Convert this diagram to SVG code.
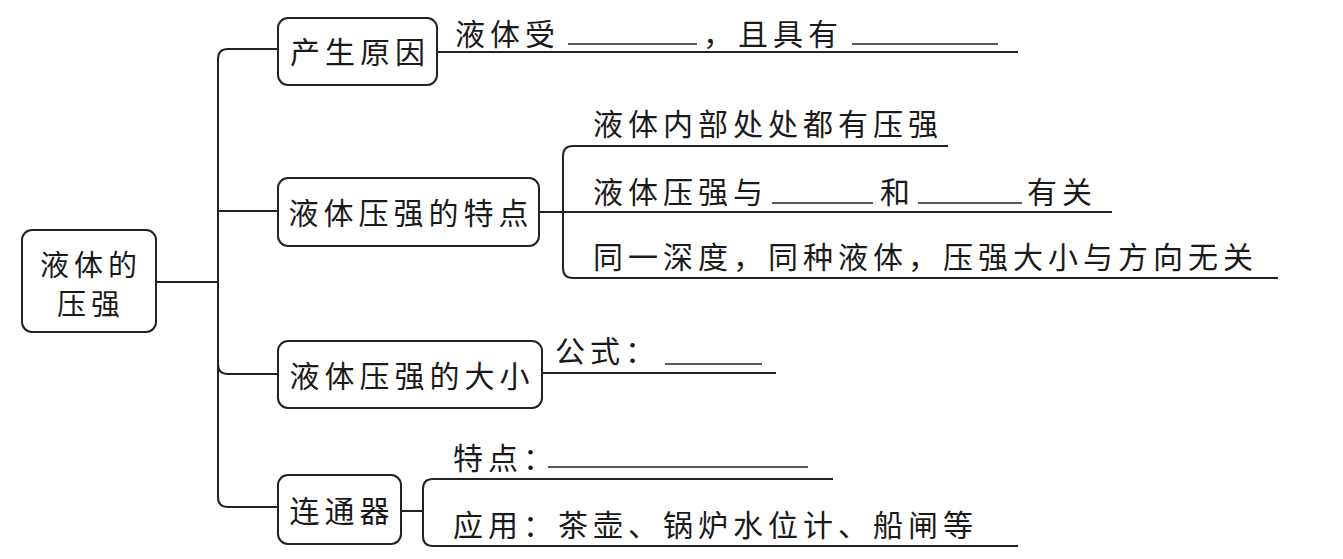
<svg xmlns="http://www.w3.org/2000/svg" width="1343" height="559" viewBox="0 0 1343 559">
<style>
.box{fill:#fff;stroke:#222;stroke-width:2}
.ln{fill:none;stroke:#222;stroke-width:2}
.bl{fill:none;stroke:#222;stroke-width:1.6}
text{font-family:"Noto Sans CJK SC","Liberation Serif",sans-serif;font-size:30px;fill:#1a1a1a;letter-spacing:5px}
.c{text-anchor:middle}
.r{font-size:29px}
</style>
<rect width="1343" height="559" fill="#fff"/>
<g id="connectors">
<path class="ln" d="M156 282 H218"/>
<path class="ln" d="M278 49 H228 Q218 49 218 59 V497 Q218 507 228 507 H278"/>
<path class="ln" d="M218 211 H278"/>
<path class="ln" d="M218 364 Q218 374 228 374 H278"/>
<path class="ln" d="M437 52 H1018"/>
<path class="ln" d="M539 212 H563"/>
<path class="ln" d="M948 146 H573 Q563 146 563 156 V268 Q563 278 573 278 H1278"/>
<path class="ln" d="M563 212 H1112"/>
<path class="ln" d="M542 373 H776"/>
<path class="ln" d="M401 511 H423"/>
<path class="ln" d="M833 479 H433 Q423 479 423 489 V536 Q423 546 433 546 H1018"/>
</g>
<g id="root">
<rect class="box" x="22" y="230" width="134" height="102" rx="10"/>
<text class="c r" x="91" y="276">液体的</text>
<text class="c r" x="91" y="315">压强</text>
</g>
<g id="cause">
<rect class="box" x="278" y="18" width="159" height="67" rx="10"/>
<text class="c" x="360" y="63">产生原因</text>
<text x="455" y="45">液体受</text>
<path class="bl" d="M568 44 H697"/>
<text x="703" y="45">，且具有</text>
<path class="bl" d="M852 44 H998"/>
</g>
<g id="features">
<rect class="box" x="278" y="178" width="261" height="68" rx="10"/>
<text class="c" x="411" y="224">液体压强的特点</text>
<text x="593" y="135">液体内部处处都有压强</text>
<text x="593" y="203">液体压强与</text>
<path class="bl" d="M772 203 H873"/>
<text x="880" y="203">和</text>
<path class="bl" d="M918 203 H1022"/>
<text x="1027" y="203">有关</text>
<text x="593" y="268">同一深度，同种液体，压强大小与方向无关</text>
</g>
<g id="magnitude">
<rect class="box" x="278" y="341" width="264" height="67" rx="10"/>
<text class="c" x="412" y="387">液体压强的大小</text>
<text x="555" y="362">公式：</text>
<path class="bl" d="M665 364 H762"/>
</g>
<g id="vessel">
<rect class="box" x="278" y="475" width="123" height="69" rx="10"/>
<text class="c" x="342" y="522">连通器</text>
<text x="453" y="469">特点：</text>
<path class="bl" d="M548 467 H808"/>
<text x="453" y="536">应用：茶壶、锅炉水位计、船闸等</text>
</g>
</svg>
